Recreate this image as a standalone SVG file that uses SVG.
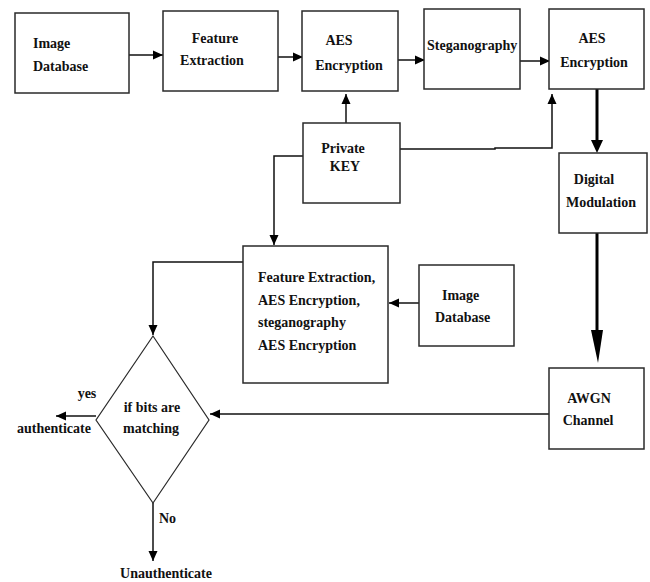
<svg xmlns="http://www.w3.org/2000/svg" width="650" height="582" viewBox="0 0 650 582">
<style>
.box{fill:#fff;stroke:#2a2a2a;stroke-width:1.5}
.t{font-family:"Liberation Serif",serif;font-weight:bold;font-size:14px;fill:#111}
.c{text-anchor:middle}
.ln{fill:none;stroke:#111;stroke-width:1.5}
.thick{fill:none;stroke:#000;stroke-width:3}
</style>
<defs>
<marker id="ah" markerUnits="userSpaceOnUse" markerWidth="10" markerHeight="10" refX="10" refY="5" orient="auto">
<path d="M0,0.5 L10,5 L0,9.5 z" fill="#000"/>
</marker>
</defs>
<rect width="650" height="582" fill="#fff"/>
<g id="connectors">
<path class="ln" d="M129,55 H163" marker-end="url(#ah)"/>
<path class="ln" d="M278,57 H303" marker-end="url(#ah)"/>
<path class="ln" d="M398,60 H425" marker-end="url(#ah)"/>
<path class="ln" d="M520,61 H550" marker-end="url(#ah)"/>
<path class="ln" d="M346,123 V94" marker-end="url(#ah)"/>
<path class="ln" d="M400,149 H495 V148 H552 V94" marker-end="url(#ah)"/>
<path class="ln" d="M303,156 H274 V245" marker-end="url(#ah)"/>
<path class="thick" d="M597,89 V142"/>
<polygon points="591,140 603,140 597,153" fill="#000"/>
<path class="thick" d="M597,233 V335"/>
<polygon points="591,330 603,330 598,363" fill="#000"/>
<path class="ln" d="M419,303 H389" marker-end="url(#ah)"/>
<path class="ln" d="M243,262 H153 V335" marker-end="url(#ah)"/>
<path class="ln" d="M549,414 H210" marker-end="url(#ah)"/>
<path class="ln" d="M96,416 H56" marker-end="url(#ah)"/>
<path class="ln" d="M153,503 V561" marker-end="url(#ah)"/>
</g>
<g id="image-db-1">
<rect class="box" x="15" y="13" width="114" height="80"/>
<text class="t" x="33" y="48">Image</text>
<text class="t" x="33" y="71">Database</text>
</g>
<g id="feature-extraction">
<rect class="box" x="163" y="11" width="115" height="80"/>
<text class="t c" x="215" y="43">Feature</text>
<text class="t c" x="212" y="65">Extraction</text>
</g>
<g id="aes-1">
<rect class="box" x="302" y="11" width="96" height="80"/>
<text class="t c" x="339" y="45">AES</text>
<text class="t c" x="349" y="70">Encryption</text>
</g>
<g id="steganography">
<rect class="box" x="424" y="9" width="96" height="80"/>
<text class="t" x="427" y="50">Steganography</text>
</g>
<g id="aes-2">
<rect class="box" x="549" y="9" width="95" height="80"/>
<text class="t c" x="592" y="43">AES</text>
<text class="t c" x="594" y="67">Encryption</text>
</g>
<g id="private-key">
<rect class="box" x="303" y="123" width="97" height="80"/>
<text class="t c" x="343" y="153">Private</text>
<text class="t c" x="345" y="171">KEY</text>
</g>
<g id="digital-modulation">
<rect class="box" x="559" y="153" width="88" height="80"/>
<text class="t c" x="594" y="184">Digital</text>
<text class="t c" x="601" y="207">Modulation</text>
</g>
<g id="processing">
<rect class="box" x="243" y="246" width="145" height="137"/>
<text class="t" x="258" y="282">Feature Extraction,</text>
<text class="t" x="258" y="305">AES Encryption,</text>
<text class="t" x="258" y="327">steganography</text>
<text class="t" x="258" y="350">AES Encryption</text>
</g>
<g id="image-db-2">
<rect class="box" x="419" y="265" width="95" height="81"/>
<text class="t" x="442" y="300">Image</text>
<text class="t" x="435" y="322">Database</text>
</g>
<g id="awgn">
<rect class="box" x="549" y="368" width="95" height="81"/>
<text class="t c" x="589" y="403">AWGN</text>
<text class="t c" x="588" y="425">Channel</text>
</g>
<g id="decision">
<polygon points="153,336 209,420 153,503 96,420" fill="#fff" stroke="#2a2a2a" stroke-width="1.2"/>
<text class="t c" x="152" y="412">if bits are</text>
<text class="t c" x="151" y="433">matching</text>
</g>
<g id="labels">
<text class="t c" x="87" y="398">yes</text>
<text class="t c" x="54" y="433">authenticate</text>
<text class="t" x="159" y="523">No</text>
<text class="t c" x="166" y="578">Unauthenticate</text>
</g>
</svg>
